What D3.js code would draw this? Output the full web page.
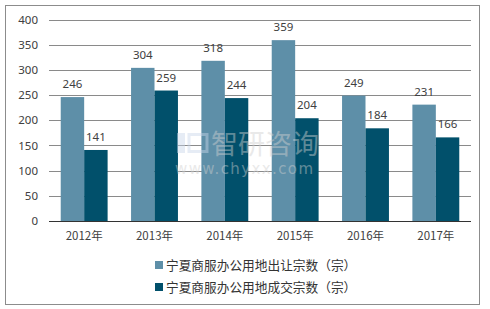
<!DOCTYPE html>
<html><head><meta charset="utf-8">
<script src="https://cdn.jsdelivr.net/npm/d3@7"></script>
<style>body{margin:0;background:#fff;font-family:"Microsoft YaHei","Noto Sans CJK SC",sans-serif;}</style>
</head><body><svg id="c" width="490" height="309"></svg>
<script>
const categories = ["2012年","2013年","2014年","2015年","2016年","2017年"];
const seriesNames = ["宁夏商服办公用地出让宗数（宗）","宁夏商服办公用地成交宗数（宗）"];
const transferred = [246,304,318,359,249,231];
const traded = [141,259,244,204,184,166];
const yTicks = [0,50,100,150,200,250,300,350,400];
const colors = ["#5E8FA8","#01506B"];

const svg = d3.select("#c");
svg.append("rect").attr("x",5.5).attr("y",5.5).attr("width",474).attr("height",299)
  .attr("fill","#fff").attr("stroke","#8c8c8c").attr("stroke-width",1);

const L=49, R=471, T=19.5, B=221;
const x = d3.scaleBand().domain(categories).range([L,R]).paddingInner(1/3).paddingOuter(1/6);
const xs = d3.scaleBand().domain([0,1]).range([0,x.bandwidth()]);
const y = d3.scaleLinear().domain([0,400]).range([B,T]);

// grid
svg.append("g").selectAll("line").data(yTicks.filter(d=>d>0)).join("line")
  .attr("x1",L).attr("x2",R).attr("y1",d=>Math.round(y(d))+0.5).attr("y2",d=>Math.round(y(d))+0.5)
  .attr("stroke","#8a8a8a").attr("stroke-width",1);

// y axis labels
const ya = svg.append("g").attr("transform",`translate(${L},0)`)
  .call(d3.axisLeft(y).tickValues(yTicks).tickSize(0).tickPadding(11));
ya.select(".domain").remove();
ya.selectAll("text").attr("font-size","11.5px").attr("fill","#404040").attr("font-family","'Noto Sans',sans-serif");

const data = categories.map((c,i)=>({c, v:[transferred[i],traded[i]]}));
const g = svg.append("g").selectAll("g").data(data).join("g").attr("transform",d=>`translate(${x(d.c)},0)`);
g.selectAll("rect").data(d=>d.v.map((v,k)=>({v,k}))).join("rect")
  .attr("x",d=>xs(d.k)).attr("width",xs.bandwidth()).attr("y",d=>y(d.v)).attr("height",d=>B-y(d.v))
  .attr("fill",d=>colors[d.k]);
g.selectAll("text").data(d=>d.v.map((v,k)=>({v,k}))).join("text")
  .attr("x",d=>xs(d.k)+xs.bandwidth()/2).attr("y",d=>y(d.v)-9)
  .attr("text-anchor","middle").attr("font-size","11.5px").attr("fill","#404040")
  .attr("font-family","'Noto Sans',sans-serif").text(d=>d.v);

// watermark (on top)
const wm = svg.append("g").attr("opacity",0.45);
wm.append("rect").attr("x",177).attr("y",133).attr("width",8).attr("height",20).attr("fill","#c9d6ea");
wm.append("rect").attr("x",189).attr("y",134.5).attr("width",18).attr("height",17).attr("fill","none").attr("stroke","#c9d6ea").attr("stroke-width",3);
wm.append("text").attr("x",211).attr("y",154).attr("font-size","27px").attr("fill","#d0d0d0").attr("font-family","'Noto Sans CJK SC'").text("智研咨询");
wm.append("text").attr("x",175).attr("y",174).attr("font-size","15px").attr("fill","#d0d0d0").attr("font-family","'DejaVu Sans'").attr("textLength",138).text("www.chyxx.com");

// x axis
const xa = svg.append("g").attr("transform",`translate(0,${B})`)
  .call(d3.axisBottom(x).tickSize(0).tickPadding(11));
xa.select(".domain").attr("stroke","#333").attr("d",`M${L},0.5H${R}`);
xa.selectAll("text").attr("font-size","11.5px").attr("fill","#404040").attr("font-family","'Noto Sans CJK SC',sans-serif");

// legend
const lg = svg.append("g").selectAll("g").data(seriesNames).join("g")
  .attr("transform",(d,i)=>`translate(155,${265+i*22})`);
lg.append("rect").attr("x",0).attr("y",-4).attr("width",8).attr("height",8).attr("fill",(d,i)=>colors[i]);
lg.append("text").attr("x",11).attr("y",0).attr("dy","0.36em").attr("font-size","12.7px").attr("fill","#333")
  .attr("font-family","'Noto Sans CJK SC',sans-serif").text(d=>d);
</script></body></html>
